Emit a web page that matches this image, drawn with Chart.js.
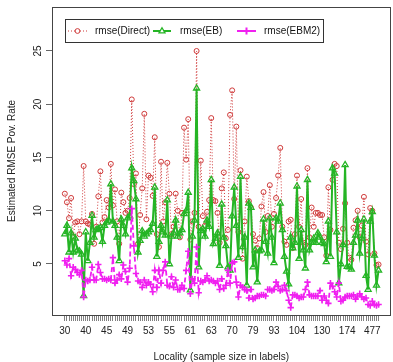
<!DOCTYPE html>
<html>
<head>
<meta charset="utf-8">
<script src="https://cdn.jsdelivr.net/npm/chart.js@4.4.1/dist/chart.umd.min.js"></script>
<style>
  html, body { margin: 0; padding: 0; background: #fff; overflow: hidden; }
  #wrap { width: 396px; height: 362px; }
</style>
</head>
<body>
<div id="wrap"><canvas id="rmse-chart" width="396" height="362"></canvas></div>
<script>
'use strict';

// Sample sizes that R managed to print under the axis, and the locality index they sit at.
const tickIdx = [0, 10, 20, 30, 40, 50, 60, 70, 80, 90, 100, 111, 123, 135, 147];
const tickText = ['30', '40', '45', '49', '53', '55', '61', '63', '70', '79', '93', '104', '130', '174', '477'];
const yTicks = [5, 10, 15, 20, 25];

// One value per locality (151 localities, sorted by sample size).
const rmseDirect = [
    11.6, 10.8, 9.3, 11.2, 7.6, 8.9, 9.0, 7.8, 9.0, 14.2,
    9.0, 8.8, 8.7, 9.7, 6.9, 8.5, 11.35, 13.7, 8.9, 9.4,
    11.0, 10.3, 14.4, 10.5, 12.0, 9.0, 6.9, 11.7, 10.8, 9.8,
    10.0, 11.2, 20.45, 12.5, 13.5, 6.9, 9.6, 12.1, 19.1, 9.2,
    13.3, 13.1, 11.4, 16.9, 7.8, 6.6, 14.6, 9.0, 10.8, 14.5,
    11.6, 7.8, 8.5, 11.6, 10.0, 7.5, 9.8, 17.8, 14.8, 18.6,
    7.3, 9.0, 9.8, 25.0, 8.5, 14.7, 9.5, 8.6, 9.9, 11.0,
    18.7, 11.0, 10.9, 9.8, 7.0, 12.1, 13.6, 7.4, 8.2, 19.0,
    21.3, 11.1, 17.9, 8.0, 13.8, 5.5, 9.0, 13.2, 10.9, 10.3,
    7.8, 7.2, 6.5, 7.4, 10.4, 11.75, 8.0, 9.5, 12.4, 8.5,
    9.7, 11.2, 13.3, 15.9, 8.5, 7.1, 6.8, 9.0, 9.15, 6.5,
    7.8, 13.3, 8.5, 11.1, 7.0, 6.8, 14.0, 7.5, 10.3, 8.5,
    9.8, 9.8, 9.6, 9.6, 7.5, 5.8, 12.2, 8.2, 12.9, 14.4,
    14.2, 7.0, 6.4, 8.3, 10.7, 7.0, 5.6, 5.4, 8.4, 9.1,
    10.0, 7.5, 8.6, 11.3, 7.1, 5.9, 10.25, 10.0, 6.0, 4.9,
    4.95,
];
const rmseEB = [
    7.8, 8.6, 6.1, 7.9, 6.1, 7.4, 6.3, 6.2, 5.9, 2.0,
    8.0, 5.3, 7.0, 9.55, 7.5, 8.2, 8.3, 8.4, 7.1, 8.6,
    8.9, 9.1, 12.5, 9.0, 8.6, 7.5, 5.3, 9.2, 8.6, 7.8,
    9.3, 9.5, 14.0, 12.8, 11.1, 6.1, 7.2, 8.1, 7.6, 7.8,
    8.0, 8.2, 8.8, 12.2, 5.7, 7.1, 8.6, 8.0, 7.7, 11.0,
    5.0, 7.6, 7.9, 9.1, 7.6, 7.9, 8.2, 9.7, 10.0, 11.7,
    2.55, 7.6, 9.1, 21.5, 4.7, 8.1, 8.3, 7.6, 9.1, 8.5,
    12.9, 6.9, 7.4, 7.9, 4.85, 10.6, 7.5, 6.7, 4.7, 4.4,
    9.5, 12.2, 8.6, 5.6, 13.2, 6.6, 7.5, 3.0, 10.7, 10.3,
    4.7, 6.3, 3.3, 6.2, 6.3, 9.2, 7.1, 6.0, 9.3, 7.5,
    5.1, 9.3, 9.0, 10.7, 8.2, 5.7, 4.3, 3.1, 7.5, 6.5,
    7.0, 12.3, 5.5, 8.2, 6.3, 4.6, 12.9, 6.3, 7.0, 7.4,
    7.0, 7.9, 7.5, 7.0, 6.9, 5.2, 9.0, 5.7, 14.0, 13.5,
    8.0, 3.2, 5.0, 6.8, 14.3, 4.75, 4.7, 4.5, 7.0, 7.7,
    9.1, 6.0, 7.4, 9.2, 3.9, 2.6, 9.0, 9.9, 5.8, 3.0,
    4.4,
];
const rmseEBM2 = [
    5.3, 4.9, 5.5, 3.9, 4.7, 4.5, 4.2, 4.0, 4.4, 1.9,
    3.5, 3.4, 3.5, 4.7, 3.5, 3.5, 4.95, 4.2, 3.6, 3.6,
    3.5, 3.6, 3.5, 5.6, 3.2, 3.5, 4.0, 3.6, 4.9, 4.3,
    3.3, 4.6, 10.2, 6.7, 4.1, 3.4, 3.3, 2.8, 3.5, 3.0,
    3.3, 3.1, 2.4, 4.4, 2.8, 4.4, 3.2, 4.4, 5.2, 3.0,
    2.9, 3.8, 2.8, 3.5, 2.6, 2.6, 3.0, 2.7, 4.4, 6.2,
    2.2, 3.6, 3.2, 6.6, 2.3, 3.4, 3.3, 3.5, 3.9, 3.4,
    3.5, 3.4, 3.2, 3.4, 2.6, 3.6, 2.7, 3.0, 4.4, 3.2,
    5.1, 5.2, 3.3, 1.9, 3.0, 2.8, 2.6, 2.5, 1.8, 2.6,
    1.7, 1.8, 2.0, 2.0, 2.1, 2.1, 2.0, 2.6, 2.6, 2.5,
    2.6, 3.3, 2.9, 2.5, 2.6, 3.0, 2.5, 1.6, 0.9, 2.1,
    2.1, 2.0, 1.8, 1.9, 1.9, 2.6, 3.3, 2.1, 2.0, 2.0,
    2.0, 2.0, 2.5, 1.6, 2.0, 1.6, 1.3, 3.2, 2.9, 2.4,
    1.9, 3.2, 1.5, 1.6, 1.9, 2.0, 2.0, 2.0, 2.1, 1.7,
    2.0, 2.2, 1.9, 1.7, 1.8, 1.2, 1.1, 1.5, 1.2, 1.1,
    1.2,
];

const directColor = '#cf3a3a';
const ebColor = '#25b525';
const ebm2Color = '#f020f0';
const fontFamily = '"Liberation Sans", Arial, Helvetica, sans-serif';

/**
 * Turn a list of values into {x, y} points on the locality index.
 *
 * @param {Array} values The series values.
 * @return {Array}
 */
const toPoints = (values) => values.map((v, i) => ({x: i, y: v}));

/**
 * Box, rotated y labels and the R style legend.
 */
const rDecor = {
    id: 'rDecor',
    afterDraw: (chart) => {
        const ctx = chart.ctx;
        const area = chart.chartArea;
        const yScale = chart.scales.y;

        ctx.save();
        ctx.strokeStyle = '#444';
        ctx.lineWidth = 1;
        ctx.strokeRect(Math.round(area.left) + 0.5, Math.round(area.top) + 0.5,
            Math.round(area.right - area.left), Math.round(area.bottom - area.top));

        // Y tick labels run along the axis, as R does by default.
        ctx.fillStyle = '#222';
        ctx.font = '10px ' + fontFamily;
        ctx.textAlign = 'center';
        ctx.textBaseline = 'middle';
        yTicks.forEach((t) => {
            ctx.save();
            ctx.translate(38, yScale.getPixelForValue(t));
            ctx.rotate(-Math.PI / 2);
            ctx.fillText(String(t), 0, 0);
            ctx.restore();
        });

        // Legend.
        const lx = 65.5;
        const ly = 19.5;
        const cy = 31;
        ctx.strokeStyle = '#333';
        ctx.strokeRect(lx, ly, 258, 23);
        ctx.textAlign = 'left';
        ctx.fillStyle = '#111';

        ctx.strokeStyle = directColor;
        ctx.lineWidth = 1;
        ctx.setLineDash([1, 2]);
        ctx.beginPath();
        ctx.moveTo(68, cy);
        ctx.lineTo(88, cy);
        ctx.stroke();
        ctx.setLineDash([]);
        ctx.fillStyle = '#fff';
        ctx.beginPath();
        ctx.arc(77.5, cy, 2.4, 0, Math.PI * 2);
        ctx.fill();
        ctx.stroke();
        ctx.fillStyle = '#111';
        ctx.fillText('rmse(Direct)', 95, cy);

        ctx.strokeStyle = ebColor;
        ctx.lineWidth = 2;
        ctx.beginPath();
        ctx.moveTo(153, cy);
        ctx.lineTo(171, cy);
        ctx.stroke();
        ctx.fillStyle = '#fff';
        ctx.lineWidth = 1.3;
        ctx.beginPath();
        ctx.moveTo(162, cy - 3.3);
        ctx.lineTo(165, cy + 1.9);
        ctx.lineTo(159, cy + 1.9);
        ctx.closePath();
        ctx.fill();
        ctx.stroke();
        ctx.fillStyle = '#111';
        ctx.fillText('rmse(EB)', 180, cy);

        ctx.strokeStyle = ebm2Color;
        ctx.lineWidth = 2;
        ctx.beginPath();
        ctx.moveTo(237, cy);
        ctx.lineTo(256, cy);
        ctx.moveTo(246.5, cy - 3.5);
        ctx.lineTo(246.5, cy + 3.5);
        ctx.stroke();
        ctx.fillText('rmse(EBM2)', 264, cy);
        ctx.restore();
    },
};

const renderGraph = (canvasId) => {
    const config = {
        type: 'line',
        data: {
            datasets: [
                {
                    label: 'rmse(EBM2)',
                    data: toPoints(rmseEBM2),
                    borderColor: ebm2Color,
                    borderWidth: 1.8,
                    borderDash: [5, 3],
                    pointStyle: 'cross',
                    pointRadius: 3.2,
                    pointBorderWidth: 1.6,
                    pointBorderColor: ebm2Color,
                    order: 1,
                },
                {
                    label: 'rmse(EB)',
                    data: toPoints(rmseEB),
                    borderColor: ebColor,
                    borderWidth: 2,
                    pointStyle: 'triangle',
                    pointRadius: 3.5,
                    pointBorderWidth: 1.3,
                    pointBorderColor: ebColor,
                    pointBackgroundColor: 'rgba(255,255,255,0)',
                    order: 2,
                },
                {
                    label: 'rmse(Direct)',
                    data: toPoints(rmseDirect),
                    borderColor: directColor,
                    borderWidth: 1,
                    borderDash: [1, 2],
                    pointStyle: 'circle',
                    pointRadius: 2.5,
                    pointBorderWidth: 1,
                    pointBorderColor: directColor,
                    pointBackgroundColor: 'rgba(255,255,255,0)',
                    order: 3,
                },
            ],
        },
        options: {
            responsive: false,
            animation: false,
            events: [],
            layout: {padding: {top: 7, right: 1, bottom: 0, left: 0}},
            elements: {line: {tension: 0}},
            plugins: {
                legend: {display: false},
                tooltip: {enabled: false},
            },
            scales: {
                x: {
                    type: 'linear',
                    min: -6.13,
                    max: 155.66,
                    border: {display: false},
                    grid: {
                        display: true,
                        drawOnChartArea: false,
                        drawTicks: true,
                        tickLength: 6,
                        color: '#808080',
                    },
                    ticks: {
                        autoSkip: false,
                        maxRotation: 0,
                        minRotation: 0,
                        padding: 4,
                        color: '#222',
                        font: {family: fontFamily, size: 10},
                        callback: (value) => {
                            const k = tickIdx.indexOf(value);
                            return k >= 0 ? tickText[k] : '';
                        },
                    },
                    afterBuildTicks: (scale) => {
                        scale.ticks = rmseDirect.map((v, i) => ({value: i}));
                    },
                    afterFit: (scale) => {
                        scale.height = 47;
                    },
                    title: {
                        display: true,
                        text: 'Locality (sample size in labels)',
                        color: '#222',
                        font: {family: fontFamily, size: 10, lineHeight: 1},
                        padding: {top: 0, bottom: 0},
                    },
                },
                y: {
                    type: 'linear',
                    min: 0.21,
                    max: 29.13,
                    border: {display: false},
                    grid: {
                        display: true,
                        drawOnChartArea: false,
                        drawTicks: true,
                        tickLength: 6,
                        color: '#666',
                    },
                    ticks: {
                        display: false,
                        includeBounds: false,
                        stepSize: 5,
                    },
                    afterBuildTicks: (scale) => {
                        scale.ticks = yTicks.map((v) => ({value: v}));
                    },
                    afterFit: (scale) => {
                        scale.width = 52;
                    },
                    title: {
                        display: true,
                        text: 'Estimated RMSE Pov. Rate',
                        color: '#222',
                        font: {family: fontFamily, size: 10},
                        padding: {top: 6, bottom: 0},
                    },
                },
            },
        },
        plugins: [rDecor],
    };

    return new Chart(document.getElementById(canvasId), config);
};

renderGraph('rmse-chart');
</script>
</body>
</html>
